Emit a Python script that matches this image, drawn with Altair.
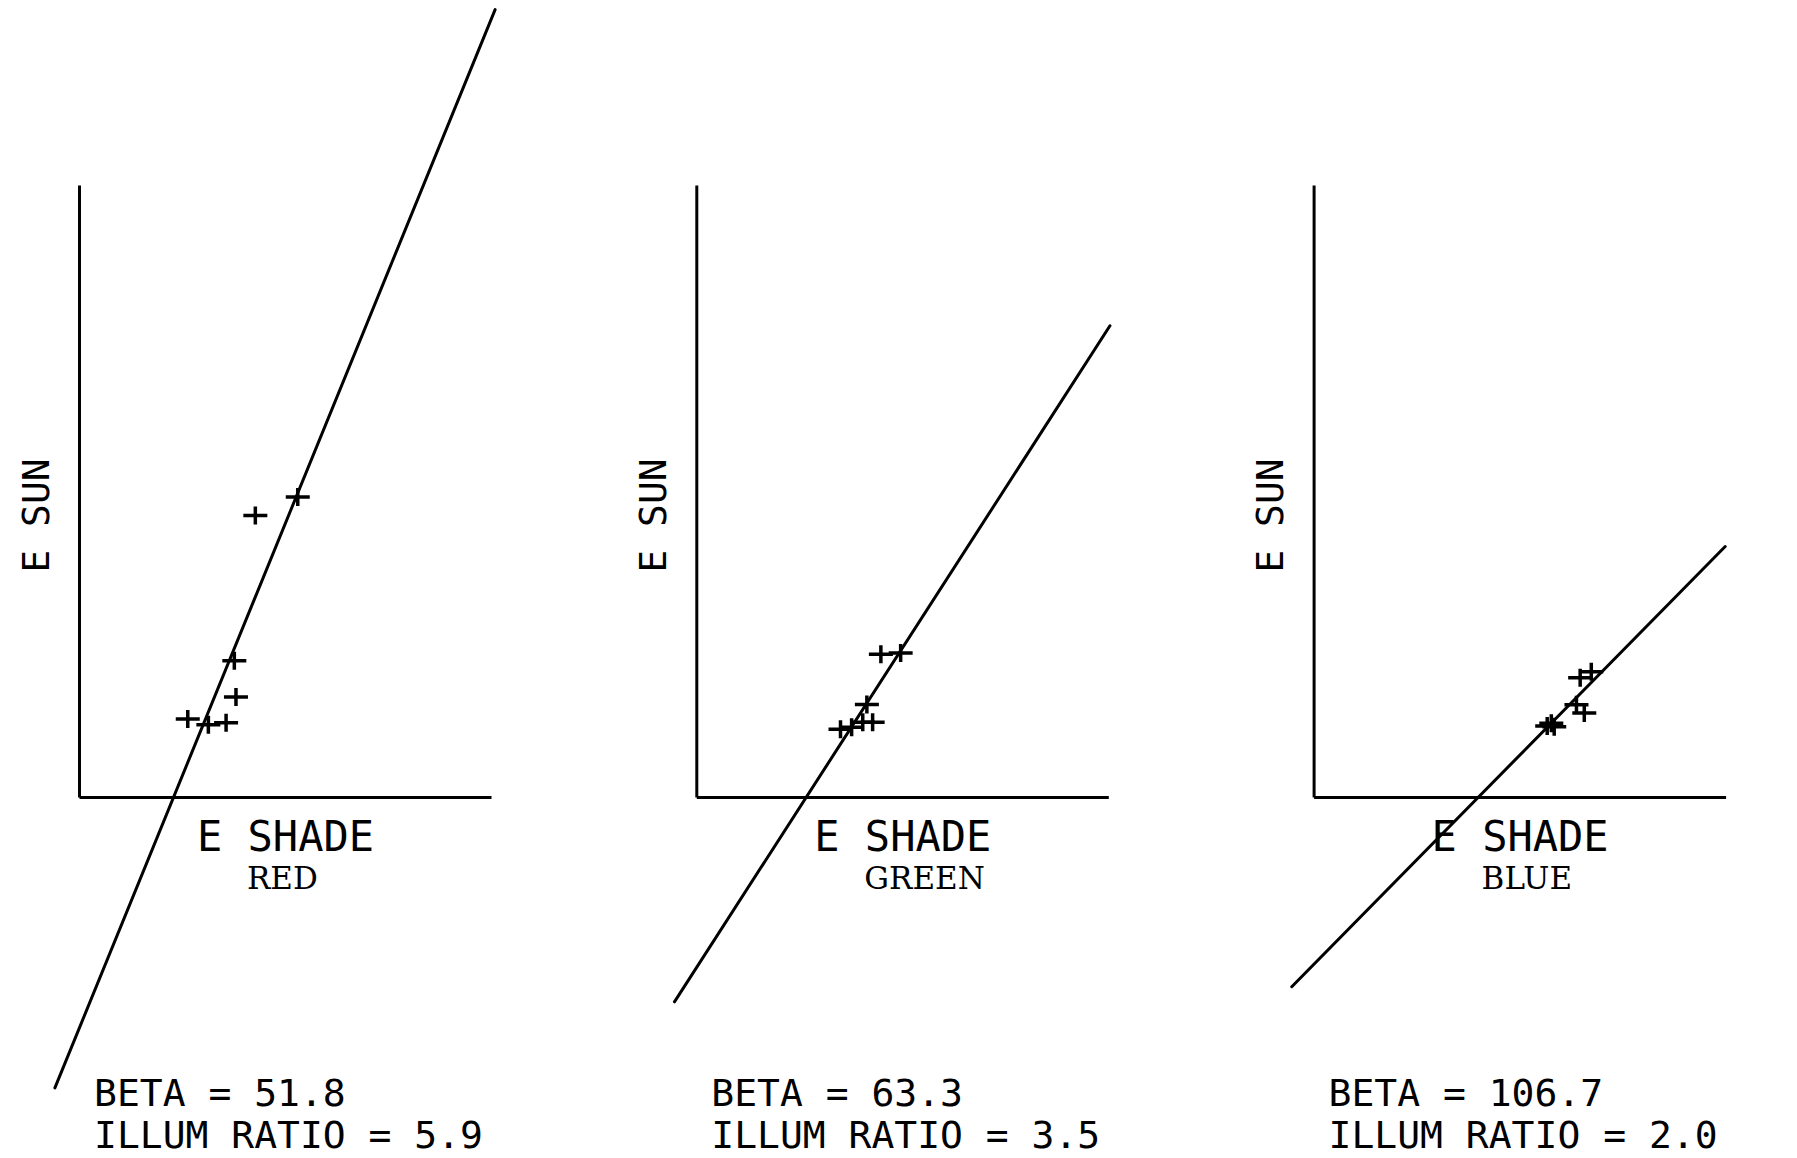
import altair as alt
import pandas as pd

# ---- data (arbitrary units: E SHADE 0-100, E SUN 0-150) ----
panel_names = ["RED", "GREEN", "BLUE"]
beta_values = ["51.8", "63.3", "106.7"]
illum_values = ["5.9", "3.5", "2.0"]

red_shade = [42.8, 53.1, 37.7, 38.1, 26.4, 31.4, 35.7]
red_sun = [69.0, 73.5, 33.4, 24.5, 19.1, 17.7, 18.2]
green_shade = [44.8, 49.6, 41.4, 42.8, 40.4, 37.7, 35.0]
green_sun = [35.0, 35.3, 22.7, 18.3, 18.3, 17.1, 16.6]
blue_shade = [64.7, 67.4, 63.8, 65.7, 56.7, 57.7, 58.4]
blue_sun = [29.2, 30.7, 22.6, 20.6, 17.4, 18.1, 17.2]

# end points of the fitted lines
red_fit_shade = [-5.85, 101.0]
red_fit_sun = [-71.3, 193.0]
green_fit_shade = [-5.3, 100.4]
green_fit_sun = [-50.2, 115.5]
blue_fit_shade = [-5.3, 99.9]
blue_fit_sun = [-46.5, 61.4]

X_DOMAIN = [0, 100]
Y_DOMAIN = [0, 150]

W, H = 412, 612
PLOT_FONT = "DejaVu Sans Mono"
TYPE_FONT = "DejaVu Serif"
PLUS = "M-1,0H1M0,-0.75V0.75"


def panel(name, beta, illum, shade, sun, fit_shade, fit_sun):
    pts = pd.DataFrame({"shade": shade, "sun": sun})
    fit = pd.DataFrame({"shade": fit_shade, "sun": fit_sun})
    lab = pd.DataFrame({
        "name": [name],
        "beta": [f"BETA = {beta}"],
        "illum": [f"ILLUM RATIO = {illum}"],
    })
    xs = alt.Scale(domain=X_DOMAIN, nice=False, zero=False)
    ys = alt.Scale(domain=Y_DOMAIN, nice=False, zero=False)
    xaxis = alt.Axis(
        title="E SHADE", ticks=False, labels=False, grid=False, domain=True,
        domainColor="black", domainWidth=3,
        titleFont=PLOT_FONT, titleFontSize=42, titleFontWeight="normal",
        titleColor="black", titleY=53, titleBaseline="alphabetic",
    )
    yaxis = alt.Axis(
        title="E SUN", ticks=False, labels=False, grid=False, domain=True,
        domainColor="black", domainWidth=3,
        titleFont=PLOT_FONT, titleFontSize=38, titleFontWeight="normal",
        titleColor="black", titleX=-31, titleY=330, titleAngle=270,
        titleBaseline="alphabetic", titleAlign="center",
    )
    line = alt.Chart(fit).mark_line(
        color="black", strokeWidth=3, strokeJoin="round", strokeCap="round", clip=False
    ).encode(
        x=alt.X("shade:Q", scale=xs, axis=xaxis),
        y=alt.Y("sun:Q", scale=ys, axis=yaxis),
    )
    points = alt.Chart(pts).mark_point(
        shape=PLUS, filled=False, size=576, strokeWidth=3.5, color="black",
        opacity=1, clip=False,
    ).encode(
        x=alt.X("shade:Q", scale=xs),
        y=alt.Y("sun:Q", scale=ys),
    )
    name_t = alt.Chart(lab).mark_text(
        font=TYPE_FONT, fontSize=31, align="left", baseline="alphabetic", color="black"
    ).encode(x=alt.value(168), y=alt.value(H + 92), text="name:N")
    beta_t = alt.Chart(lab).mark_text(
        font=PLOT_FONT, fontSize=38, align="left", baseline="alphabetic", color="black"
    ).encode(x=alt.value(15), y=alt.value(H + 309), text="beta:N")
    illum_t = alt.Chart(lab).mark_text(
        font=PLOT_FONT, fontSize=38, align="left", baseline="alphabetic", color="black"
    ).encode(x=alt.value(15), y=alt.value(H + 351), text="illum:N")
    return alt.layer(line, points, name_t, beta_t, illum_t).properties(width=W, height=H)


p1 = panel(panel_names[0], beta_values[0], illum_values[0], red_shade, red_sun, red_fit_shade, red_fit_sun)
p2 = panel(panel_names[1], beta_values[1], illum_values[1], green_shade, green_sun, green_fit_shade, green_fit_sun)
p3 = panel(panel_names[2], beta_values[2], illum_values[2], blue_shade, blue_sun, blue_fit_shade, blue_fit_sun)

chart = alt.hconcat(p1, p2, p3, spacing=205.3, bounds="flush").properties(
    padding={"left": 10, "top": 0, "right": 5, "bottom": 0},
    background="white",
).configure_view(strokeWidth=0)

chart.save("out.html", embed_options={"renderer": "svg", "actions": False})
